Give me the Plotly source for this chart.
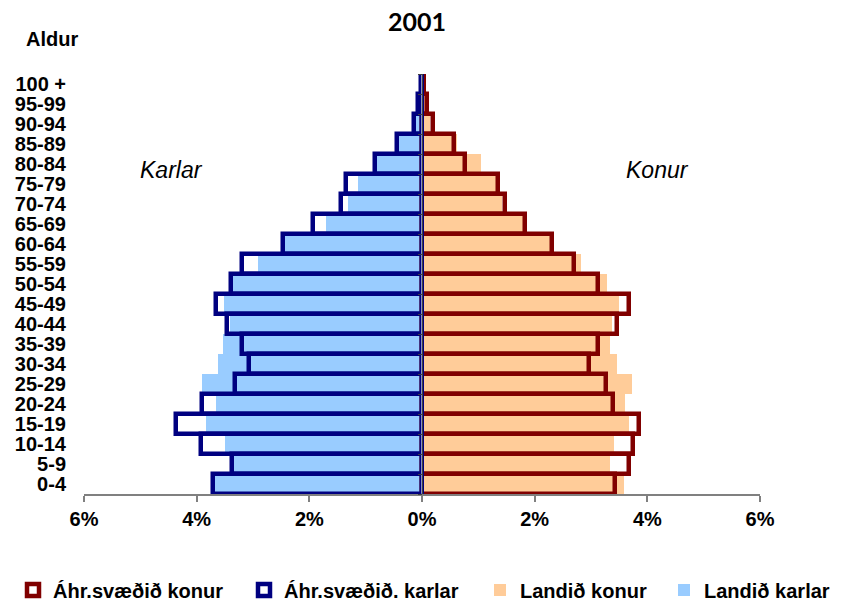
import plotly.graph_objects as go

ages = ['0-4', '5-9', '10-14', '15-19', '20-24', '25-29', '30-34', '35-39', '40-44',
        '45-49', '50-54', '55-59', '60-64', '65-69', '70-74', '75-79', '80-84',
        '85-89', '90-94', '95-99', '100 +']

ahr_karlar = [3.71, 3.38, 3.92, 4.37, 3.91, 3.32, 3.07, 3.19, 3.47, 3.66, 3.39,
              3.20, 2.46, 1.93, 1.43, 1.35, 0.83, 0.45, 0.15, 0.07, 0.02]
landid_karlar = [3.68, 3.33, 3.50, 3.84, 3.66, 3.90, 3.63, 3.53, 3.41, 3.51, 3.35,
                 2.92, 2.43, 1.71, 1.31, 1.14, 0.80, 0.41, 0.12, 0.04, 0.01]
ahr_konur = [3.42, 3.67, 3.75, 3.86, 3.39, 3.27, 2.96, 3.13, 3.46, 3.67, 3.12,
             2.69, 2.30, 1.83, 1.47, 1.35, 0.77, 0.57, 0.19, 0.08, 0.03]
landid_konur = [3.58, 3.33, 3.40, 3.68, 3.60, 3.72, 3.46, 3.33, 3.37, 3.49, 3.29,
                2.82, 2.27, 1.80, 1.42, 1.32, 1.05, 0.63, 0.15, 0.05, 0.01]

tick_vals = [-6, -4, -2, 0, 2, 4, 6]
tick_text = ['6%', '4%', '2%', '0%', '2%', '4%', '6%']

FONT = "Liberation Sans, Arial, sans-serif"

W, H = 833, 597  # page body has an 8px default margin
L, R, T, B = 76, 81, 66, 111
PW, PH = W - L - R, H - T - B

fig = go.Figure()
fig.add_trace(go.Bar(y=ages, x=landid_konur, orientation='h', name='Landið konur',
                     marker=dict(color='#FFCC99', line=dict(width=0)), legend='legend3'))
fig.add_trace(go.Bar(y=ages, x=[-v for v in landid_karlar], orientation='h', name='Landið karlar',
                     marker=dict(color='#99CCFF', line=dict(width=0)), legend='legend4'))
fig.add_trace(go.Bar(y=ages, x=ahr_konur, orientation='h', name='Áhr.svæðið konur',
                     marker=dict(color='rgba(0,0,0,0)', line=dict(color='#800000', width=4.5)),
                     legend='legend'))
fig.add_trace(go.Bar(y=ages, x=[-v for v in ahr_karlar], orientation='h', name='Áhr.svæðið. karlar',
                     marker=dict(color='rgba(0,0,0,0)', line=dict(color='#000080', width=4.5)),
                     legend='legend2'))


def leg(fig_x):
    return dict(orientation='h', xref='paper', yref='paper', x=(fig_x - L) / PW, xanchor='left',
                y=-(582 - (T + PH)) / PH, yanchor='middle', itemwidth=30,
                bgcolor='rgba(0,0,0,0)',
                font=dict(size=20, family=FONT, weight='bold'), itemclick=False)


fig.update_layout(
    width=W, height=H,
    margin=dict(l=L, r=R, t=T, b=B, autoexpand=False),
    paper_bgcolor='white', plot_bgcolor='white',
    barmode='overlay', bargap=0,
    font=dict(family=FONT, color='black'),
    title=dict(text='<b>2001</b>', x=409/W, xanchor='center', xref='container', yref='container',
               y=1 - 5/H, yanchor='top', pad=dict(t=0, b=0, l=0, r=0),
               font=dict(family='Lato, Open Sans, sans-serif', size=25, color='black')),
    xaxis=dict(range=[-6, 6], tickvals=tick_vals, ticktext=tick_text, showgrid=False,
               zeroline=True, zerolinecolor='#404040', zerolinewidth=1,
               showline=True, linecolor='#808080', linewidth=1.5,
               ticks='outside', ticklen=6, tickcolor='#808080', tickwidth=1.5, automargin=False,
               tickfont=dict(size=20, family=FONT, weight='bold'), fixedrange=True),
    yaxis=dict(type='category', categoryorder='array', categoryarray=ages, showgrid=False,
               tickmode='array', tickvals=ages, ticktext=ages, automargin=False,
               showline=False, ticks='', ticklabelstandoff=17,
               tickfont=dict(size=20, family=FONT, weight='bold')),
    yaxis2=dict(type='category', categoryorder='array', categoryarray=ages, overlaying='y',
                matches='y', anchor='free', position=0.5, side='left', showline=True,
                linecolor='#404040', linewidth=1, ticks='outside', ticklen=4, tickson='boundaries',
                tickcolor='#404040', showticklabels=False, showgrid=False, automargin=False),
    legend=leg(5), legend2=leg(236), legend3=leg(472), legend4=leg(656),
    showlegend=True,
    annotations=[
        dict(text='<b>Aldur</b>', xref='paper', yref='paper', x=(52 - 84) / PW, y=(494 - 39) / PH,
             showarrow=False, xanchor='center', yanchor='middle', font=dict(size=20, family=FONT)),
        dict(text='<i>Karlar</i>', xref='paper', yref='paper', x=(171 - 84) / PW, y=(494 - 170) / PH,
             showarrow=False, xanchor='center', yanchor='middle', font=dict(size=23, family=FONT)),
        dict(text='<i>Konur</i>', xref='paper', yref='paper', x=(657 - 84) / PW, y=(494 - 170) / PH,
             showarrow=False, xanchor='center', yanchor='middle', font=dict(size=23, family=FONT)),
    ],
)

# invisible trace so the centre category axis is drawn
fig.add_trace(go.Bar(y=ages, x=[0] * len(ages), orientation='h', yaxis='y2', showlegend=False,
                     hoverinfo='skip', marker=dict(color='rgba(0,0,0,0)')))

fig.write_html("out.html")
